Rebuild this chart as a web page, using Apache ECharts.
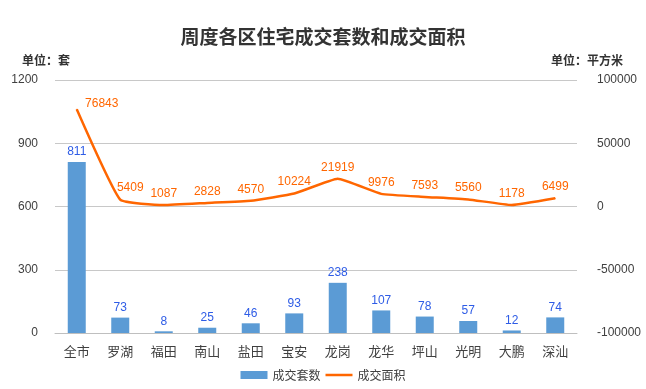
<!DOCTYPE html>
<html><head><meta charset="utf-8">
<script src="https://cdn.jsdelivr.net/npm/echarts@6/dist/echarts.min.js"></script>
<style>html,body{margin:0;padding:0;background:#fff}#c{width:646px;height:389px}</style>
</head><body><div id="c"></div>
<script>
const categories = ['全市','罗湖','福田','南山','盐田','宝安','龙岗','龙华','坪山','光明','大鹏','深汕'];
const units = [811,73,8,25,46,93,238,107,78,57,12,74];
const areas = [76843,5409,1087,2828,4570,10224,21919,9976,7593,5560,1178,6499];
const leftTicks = {min:0,max:1200,interval:300};
const rightTicks = {min:-100000,max:100000,interval:50000};

const chart = echarts.init(document.getElementById('c'));
const font = "'Noto Sans CJK SC', sans-serif";
const numFont = "'Liberation Sans', Arial, sans-serif";
const labelOffsets = {0:[25,6],1:[10,0]};
chart.setOption({
  animation:false,
  title:[
    {text:'周度各区住宅成交套数和成交面积',left:'center',top:22,textStyle:{fontFamily:font,fontSize:19,fontWeight:'bold',color:'#333'}},
    {text:'单位：套',left:17,top:49,textStyle:{fontFamily:font,fontSize:12,fontWeight:'bold',color:'#333'}},
    {text:'单位：平方米',right:18,top:49,textStyle:{fontFamily:font,fontSize:12,fontWeight:'bold',color:'#333'}}
  ],
  grid:{left:55,right:69,top:80,bottom:56},
  legend:{bottom:3,left:'center',itemWidth:27,itemHeight:8,itemGap:5,textStyle:{fontFamily:font,fontSize:12,color:'#404040'},
    data:[{name:'成交套数',icon:'rect'},{name:'成交面积',icon:'path://M0,0 L27,0 L27,2.5 L0,2.5 Z'}]},
  xAxis:{type:'category',data:categories,axisTick:{show:false},
    axisLine:{lineStyle:{color:'#BFBFBF'}},
    axisLabel:{fontFamily:font,fontSize:13,color:'#404040',margin:12}},
  yAxis:[
    {type:'value',min:leftTicks.min,max:leftTicks.max,interval:leftTicks.interval,
      axisLabel:{fontFamily:numFont,fontSize:12,color:'#404040',margin:17,formatter:v=>String(v)},
      splitLine:{lineStyle:{color:'#C8C8C8'}},axisLine:{show:false},axisTick:{show:false}},
    {type:'value',min:rightTicks.min,max:rightTicks.max,interval:rightTicks.interval,
      axisLabel:{fontFamily:numFont,fontSize:12,color:'#404040',margin:20,formatter:v=>String(v)},
      splitLine:{show:false},axisLine:{show:false},axisTick:{show:false}}
  ],
  series:[
    {name:'成交套数',type:'bar',data:units,barWidth:18,itemStyle:{color:'#5B9BD5'},
      label:{show:true,position:'top',distance:4,color:'#2E5CE6',fontFamily:numFont,fontSize:12}},
    {name:'成交面积',type:'line',yAxisIndex:1,smooth:0.12,symbol:'circle',symbolSize:1,showSymbol:true,
      data:areas.map((v,i)=> labelOffsets[i] ? {value:v,label:{offset:labelOffsets[i]}} : v),
      lineStyle:{color:'#FF6600',width:2.5},itemStyle:{color:'#FF6600'},
      label:{show:true,position:'top',distance:5,color:'#FF6600',fontFamily:numFont,fontSize:12}}
  ]
});
</script></body></html>
